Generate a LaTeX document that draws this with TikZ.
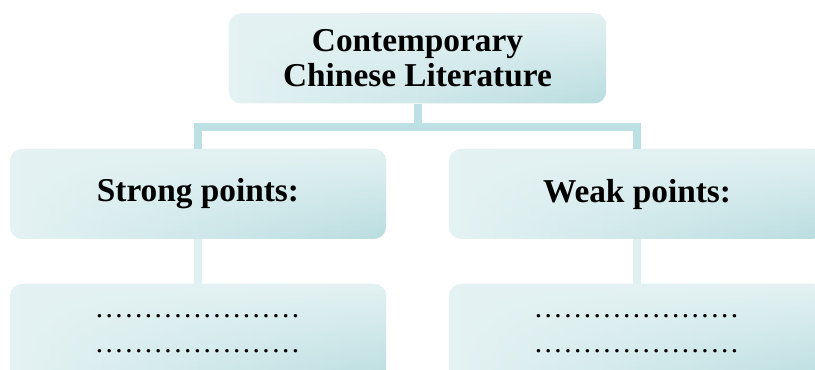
\documentclass[tikz,border=0pt]{standalone}
\usetikzlibrary{fadings}
\usepackage{fontspec}
\setmainfont{Liberation Serif}
\definecolor{boxlight}{HTML}{E4F2F3}
\definecolor{boxdark}{HTML}{B9DDE0}
\definecolor{linkdark}{HTML}{BCE0E3}
\definecolor{linklight}{HTML}{DFF0F2}
% a row of evenly spaced dots to be filled in later
\newcommand\dotline{\hbox to 155pt{\leaders\hbox to 7.35pt{\hss.\hss}\hfill}}
\begin{document}
\begin{tikzpicture}[x=0.75pt,y=-0.75pt,
  card/.style={rounded corners=9pt, left color=boxlight, right color=boxdark,
    draw=none, minimum width=282pt, minimum height=67.5pt,
    inner sep=0pt, align=center,
    % light wash from the top edge, fading out towards the bottom
    % (the y axis points down here, so the fading is named the other way)
    path picture={\fill[boxlight, path fading=south]
      (path picture bounding box.south west) rectangle
      (path picture bounding box.north east);}},
  headtext/.style={font=\fontsize{25}{26.3}\selectfont\bfseries},
  dottext/.style={font=\fontsize{22}{26.3}\selectfont},
  link/.style={line width=6pt, line join=miter, line cap=butt}]
\useasboundingbox (0,0) rectangle (815,370);
\clip (0,0) rectangle (815,370);

% boxes
\node[card, headtext, minimum width=283pt] (top) at (417.5,58.5)
  {Contemporary\\Chinese Literature};
\node[card, headtext] (strong) at (198,194) {Strong points:};
\node[card, headtext] (weak) at (637,194) {Weak points:};
\node[card, dottext, minimum height=75pt] (strongfill) at (198,334) {\dotline\\\dotline};
\node[card, dottext, minimum height=75pt] (weakfill) at (637,334) {\dotline\\\dotline};

% connectors
\coordinate (bar) at (417.5,127);
\draw[link, linkdark] (top.south) -- (bar);
\draw[link, linkdark] (strong.north) |- (bar) -| (weak.north);
\draw[link, linklight] (strong.south) -- (strongfill.north);
\draw[link, linklight] (weak.south) -- (weakfill.north);
\end{tikzpicture}
\end{document}
